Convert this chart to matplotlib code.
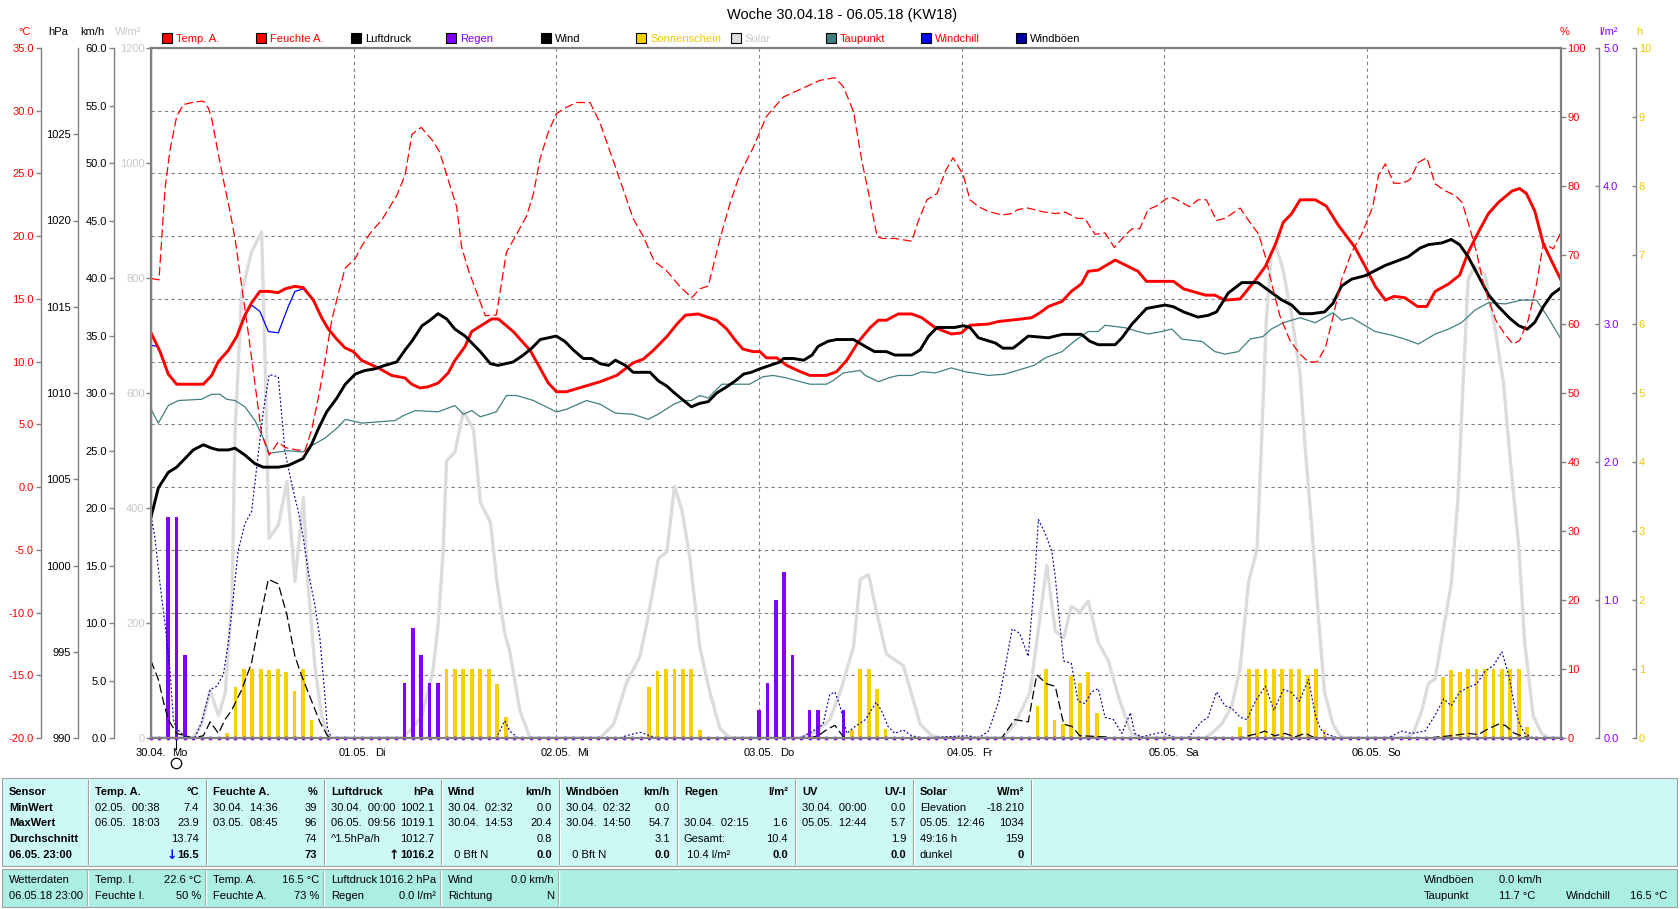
import numpy as np
import matplotlib
matplotlib.use("Agg")
import matplotlib.pyplot as plt
from matplotlib.patches import Rectangle
from matplotlib.transforms import ScaledTranslation

plt.rcParams['font.family'] = ['Liberation Sans', 'DejaVu Sans']
plt.rcParams['font.size'] = 8

# ---------------------------------------------------------------- data
title = "Woche 30.04.18 - 06.05.18 (KW18)"
day_dates = ["30.04.", "01.05.", "02.05.", "03.05.", "04.05.", "05.05.", "06.05."]
day_names = ["Mo", "Di", "Mi", "Do", "Fr", "Sa", "So"]
moon_full_hour = 2.97

temp_h = [0, 1.07, 2.05, 3.04, 4.03, 6.2, 7.19, 7.97, 9.16, 10.15,
          11.13, 11.92, 12.9, 13.9, 15.08, 15.87, 17.05, 18.04, 19.23, 20.21,
          21.0, 21.99, 22.98, 23.96, 24.95, 26.92, 28.5, 29.29, 30.08, 30.87,
          31.86, 32.85, 34.03, 35.2, 36.0, 37.19, 37.98, 39.16, 40.35, 41.14,
          42.9, 44.9, 46.07, 47.05, 48.03, 49.2, 51.2, 53.2, 55.15, 57.1,
          58.3, 59.5, 61.1, 62.3, 63.3, 64.8, 67.0, 68.2, 69.2, 70.1,
          71.3, 72.1, 72.9, 74.1, 75.3, 76.9, 78.05, 80.0, 81.2, 82.4,
          83.8, 85.16, 86.15, 87.1, 88.5, 90.1, 91.3, 92.9, 94.8, 96.0,
          97.0, 99.2, 100.4, 103.1, 104.3, 105.3, 106.3, 107.9, 109.0, 110.2,
          111.0, 112.2, 114.2, 115.4, 116.9, 117.9, 121.1, 122.3, 124.9, 126.0,
          127.2, 129.0, 130.8, 132.0, 133.2, 134.1, 135.1, 136.1, 137.9, 139.2,
          140.6, 142.6, 143.8, 145.0, 146.2, 147.2, 148.5, 150.0, 151.1, 152.1,
          153.7, 155.0, 156.0, 157.2, 158.4, 159.6, 161.2, 162.1, 162.9, 163.9,
          164.9, 165.9, 167.0]
temp_v = [12.3, 10.8, 9.0, 8.2, 8.2, 8.2, 8.9, 10.0, 10.9, 12.0,
          13.7, 14.7, 15.6, 15.6, 15.5, 15.8, 16.0, 15.9, 14.9, 13.5,
          12.6, 11.8, 11.1, 10.8, 10.1, 9.5, 8.9, 8.8, 8.7, 8.2,
          7.9, 8.0, 8.3, 9.1, 10.1, 11.2, 12.4, 12.9, 13.4, 13.4,
          12.4, 10.9, 9.5, 8.3, 7.6, 7.6, 8.0, 8.4, 8.9, 9.9,
          10.2, 10.9, 12.0, 13.0, 13.7, 13.8, 13.3, 12.6, 11.7, 11.0,
          10.8, 10.8, 10.3, 10.3, 9.7, 9.2, 8.9, 8.9, 9.2, 10.1,
          11.6, 12.7, 13.3, 13.3, 13.8, 13.8, 13.5, 12.7, 12.2, 12.3,
          12.9, 13.0, 13.2, 13.4, 13.5, 13.9, 14.4, 14.8, 15.6, 16.2,
          17.2, 17.3, 18.1, 17.7, 17.2, 16.4, 16.4, 15.8, 15.3, 15.3,
          14.9, 15.0, 16.5, 17.6, 19.4, 21.1, 21.8, 22.9, 22.9, 22.4,
          20.9, 19.1, 17.6, 16.0, 14.9, 15.2, 15.1, 14.4, 14.4, 15.6,
          16.2, 16.9, 18.7, 20.3, 21.8, 22.7, 23.6, 23.8, 23.4, 22.0,
          19.4, 18.0, 16.5]

hum_h = [0, 0.95, 1.66, 2.25, 3.04, 3.83, 5.21, 6.2, 6.79, 7.19,
         7.78, 8.57, 9.36, 9.95, 10.74, 11.53, 12.32, 13.1, 14.0, 15.08,
         15.87, 17.05, 18.24, 19.03, 19.82, 20.6, 21.4, 22.2, 23.0, 24.2,
         25.0, 26.1, 27.3, 28.1, 29.1, 30.1, 30.9, 32.0, 33.4, 34.2,
         35.2, 36.2, 36.8, 37.6, 38.8, 39.6, 40.9, 42.1, 43.3, 44.5,
         45.3, 46.07, 47.05, 48.03, 49.2, 50.4, 52.0, 53.2, 54.76, 55.9,
         57.1, 58.3, 59.6, 61.0, 62.6, 64.04, 65.0, 66.0, 67.4, 68.6,
         69.8, 71.3, 72.9, 74.9, 77.6, 79.2, 81.0, 82.0, 83.2, 84.2,
         85.0, 86.0, 86.6, 88.1, 90.1, 90.9, 91.9, 93.1, 94.1, 95.0,
         96.2, 97.0, 98.0, 99.2, 100.8, 101.9, 102.7, 103.9, 105.5, 107.1,
         108.3, 109.7, 110.6, 111.8, 113.0, 114.1, 115.4, 116.2, 117.1, 118.1,
         119.1, 120.3, 121.1, 123.0, 124.0, 125.0, 126.2, 127.2, 129.0, 130.0,
         131.2, 132.0, 132.8, 133.7, 134.9, 136.1, 137.1, 138.1, 139.1, 139.9,
         141.0, 142.2, 143.4, 144.7, 145.4, 146.2, 147.2, 148.2, 149.1, 150.1,
         151.1, 152.1, 153.3, 154.5, 155.3, 156.1, 157.0, 157.7, 158.5, 159.3,
         160.3, 161.3, 162.1, 163.1, 164.1, 164.9, 166.1, 167.0]
hum_v = [66.6, 66.4, 79.6, 85.2, 90.1, 91.8, 92.2, 92.3, 91.3, 89.8,
         85.9, 80.9, 76.3, 72.4, 65.5, 58.6, 51.3, 44.1, 41.0, 42.9,
         42.1, 41.8, 41.6, 44.7, 49.3, 54.6, 60.5, 64.5, 68.1, 69.5,
         71.4, 73.4, 75.0, 76.6, 78.6, 81.6, 87.5, 88.5, 86.5, 84.9,
         80.9, 77.0, 71.1, 67.8, 63.8, 61.2, 61.3, 70.4, 73.0, 75.7,
         78.9, 83.9, 87.8, 90.5, 91.4, 92.1, 92.1, 89.1, 83.6, 79.6,
         75.3, 72.7, 69.1, 67.8, 65.5, 63.8, 65.1, 65.5, 72.4, 77.6,
         81.9, 85.5, 90.1, 92.9, 94.4, 95.3, 95.7, 94.4, 90.8, 83.6,
         78.9, 72.7, 72.4, 72.4, 72.0, 75.0, 78.0, 78.9, 82.2, 84.1,
         81.6, 78.0, 77.0, 76.3, 75.8, 76.0, 76.6, 76.8, 76.3, 76.0,
         76.2, 75.3, 75.3, 73.0, 73.2, 71.1, 72.9, 73.8, 73.8, 76.6,
         77.1, 78.2, 78.3, 77.0, 78.0, 78.0, 75.0, 75.3, 76.8, 75.0,
         73.0, 69.7, 65.5, 61.2, 57.6, 55.6, 54.5, 54.5, 56.6, 60.5,
         66.4, 70.4, 73.0, 77.0, 81.6, 83.2, 80.4, 80.4, 80.9, 83.4,
         84.1, 80.3, 79.3, 78.6, 77.6, 74.3, 70.4, 66.4, 63.2, 60.5,
         58.6, 57.1, 57.6, 60.5, 65.8, 71.7, 70.9, 73.4]

pres_h = [0, 0.87, 2.05, 3.04, 4.03, 5.01, 6.2, 7.19, 7.97, 9.16,
          9.95, 11.13, 12.32, 13.3, 15.08, 16.26, 18.0, 19.0, 19.8, 20.8,
          22.0, 23.0, 24.2, 25.3, 26.5, 27.7, 29.1, 30.1, 30.9, 32.1,
          33.0, 34.0, 35.0, 36.0, 37.2, 39.0, 40.2, 41.1, 42.9, 44.1,
          45.1, 46.1, 47.05, 48.0, 49.0, 50.0, 51.2, 52.2, 53.2, 54.2,
          55.0, 56.2, 57.1, 59.1, 60.1, 61.1, 62.0, 63.0, 64.0, 65.0,
          66.0, 67.0, 68.0, 69.2, 70.2, 71.1, 72.1, 73.3, 74.5, 74.9,
          76.1, 77.3, 78.3, 79.0, 80.2, 81.2, 82.4, 83.2, 84.6, 85.7,
          87.1, 88.1, 90.1, 91.1, 92.1, 93.1, 95.2, 96.2, 97.0, 98.0,
          100.0, 100.9, 102.1, 102.9, 103.9, 106.3, 107.1, 108.0, 110.2, 111.2,
          112.2, 114.2, 115.0, 116.2, 117.9, 120.1, 121.1, 122.3, 124.0, 125.2,
          126.2, 127.6, 129.2, 131.1, 132.5, 133.9, 135.1, 136.1, 137.5, 139.0,
          140.0, 141.0, 142.2, 143.8, 145.0, 146.2, 147.3, 148.9, 150.3, 151.3,
          152.9, 154.0, 155.0, 156.0, 157.2, 158.4, 159.6, 161.0, 162.0, 163.0,
          163.9, 164.9, 165.9, 167.0]
pres_v = [1002.8, 1004.5, 1005.4, 1005.7, 1006.2, 1006.7, 1007.0, 1006.8, 1006.7, 1006.7,
          1006.8, 1006.4, 1005.9, 1005.7, 1005.7, 1005.8, 1006.2, 1007.0, 1007.9, 1008.9,
          1009.7, 1010.5, 1011.1, 1011.3, 1011.4, 1011.6, 1011.8, 1012.5, 1013.0, 1013.9,
          1014.2, 1014.6, 1014.3, 1013.7, 1013.3, 1012.4, 1011.7, 1011.6, 1011.8, 1012.2,
          1012.6, 1013.1, 1013.2, 1013.3, 1013.0, 1012.5, 1012.0, 1012.0, 1011.7, 1011.6,
          1011.9, 1011.6, 1011.2, 1011.2, 1010.7, 1010.4, 1010.0, 1009.6, 1009.2, 1009.4,
          1009.5, 1010.0, 1010.3, 1010.7, 1011.1, 1011.2, 1011.4, 1011.6, 1011.8, 1012.0,
          1012.0, 1011.9, 1012.2, 1012.7, 1013.0, 1013.1, 1013.1, 1013.1, 1012.7, 1012.4,
          1012.4, 1012.2, 1012.2, 1012.5, 1013.3, 1013.8, 1013.8, 1013.9, 1013.8, 1013.2,
          1012.9, 1012.6, 1012.6, 1012.9, 1013.3, 1013.2, 1013.3, 1013.4, 1013.4, 1013.0,
          1012.8, 1012.8, 1013.2, 1014.0, 1014.9, 1015.1, 1015.0, 1014.7, 1014.4, 1014.5,
          1014.7, 1015.8, 1016.4, 1016.4, 1015.9, 1015.4, 1015.1, 1014.6, 1014.6, 1014.7,
          1015.2, 1016.2, 1016.6, 1016.8, 1017.1, 1017.4, 1017.6, 1017.9, 1018.4, 1018.6,
          1018.7, 1018.9, 1018.6, 1017.9, 1016.8, 1015.7, 1015.0, 1014.3, 1013.9, 1013.7,
          1014.1, 1015.0, 1015.7, 1016.1]

dew_h = [0, 0.87, 2.05, 3.24, 6.0, 7.19, 8.17, 8.96, 9.95, 11.13,
         12.32, 13.3, 14.0, 15.08, 16.26, 18.0, 19.0, 20.6, 22.2, 23.0,
         25.0, 26.9, 28.9, 29.9, 31.3, 34.0, 36.0, 37.0, 38.0, 39.0,
         40.9, 42.1, 43.3, 45.3, 48.0, 49.2, 51.6, 53.2, 55.0, 57.1,
         58.9, 60.3, 61.9, 63.0, 64.0, 65.0, 66.0, 67.6, 70.9, 72.5,
         73.7, 75.3, 76.9, 78.05, 80.0, 80.8, 82.0, 84.0, 84.6, 86.2,
         87.3, 88.5, 90.1, 91.3, 92.9, 94.8, 96.4, 99.2, 101.1, 103.1,
         104.6, 105.9, 107.9, 109.5, 111.0, 112.2, 113.0, 115.4, 116.9, 118.1,
         119.7, 120.9, 122.1, 123.3, 124.5, 126.0, 127.2, 128.8, 130.2, 131.7,
         132.7, 134.1, 136.1, 137.9, 140.0, 141.0, 142.2, 145.0, 147.0, 148.5,
         150.1, 152.1, 153.7, 155.2, 156.8, 158.4, 160.4, 162.3, 164.1, 165.3,
         167.0]
dew_v = [6.2, 5.1, 6.5, 6.9, 7.0, 7.4, 7.4, 7.0, 6.9, 6.4,
         5.3, 3.9, 2.7, 2.8, 2.9, 2.8, 3.3, 3.9, 4.8, 5.4,
         5.1, 5.2, 5.3, 5.7, 6.1, 6.0, 6.5, 5.8, 6.1, 5.6,
         6.0, 7.3, 7.3, 6.9, 6.0, 6.2, 6.9, 6.6, 5.9, 5.8,
         5.4, 5.9, 6.6, 6.9, 6.9, 7.3, 7.1, 8.2, 8.2, 8.8,
         8.9, 8.7, 8.4, 8.2, 8.2, 8.5, 9.1, 9.3, 8.9, 8.4,
         8.7, 8.9, 8.9, 9.2, 9.1, 9.5, 9.2, 8.9, 9.0, 9.4,
         9.7, 10.3, 10.8, 11.7, 12.4, 12.4, 12.9, 12.7, 12.4, 12.2,
         12.4, 12.6, 11.8, 11.7, 11.6, 10.8, 10.6, 10.8, 11.8, 12.0,
         12.6, 13.1, 13.5, 13.1, 13.9, 13.3, 13.5, 12.4, 12.1, 11.8,
         11.4, 12.2, 12.6, 13.1, 14.1, 14.7, 14.6, 14.9, 14.9, 13.7,
         11.8]

windchill_h = [0, 0.87, 2.05, 3.04, 4.03, 6.2, 7.19, 7.97, 9.16, 10.15,
               11.13, 11.92, 12.9, 13.9, 15.08, 16.26, 17.05, 18.04, 19.23, 20.21]
windchill_v = [11.3, 11.2, 9.0, 8.2, 8.2, 8.2, 8.9, 10.0, 10.9, 12.0,
               13.8, 14.5, 14.0, 12.4, 12.3, 14.4, 15.6, 15.8, 14.9, 13.5]

solar_h = [0, 5.0, 6.0, 7.0, 8.0, 8.8, 9.6, 9.95, 10.74, 11.9,
           13.1, 13.5, 13.98, 15.1, 16.1, 17.05, 18.04, 18.6, 19.4, 20.2,
           20.9, 21.4, 29.7, 30.9, 32.1, 33.4, 34.0, 34.6, 35.0, 36.0,
           37.0, 38.2, 39.0, 40.2, 41.0, 41.9, 42.5, 43.7, 44.9, 53.2,
           54.8, 56.3, 57.9, 58.7, 59.5, 60.1, 61.1, 62.0, 62.9, 63.8,
           65.0, 66.2, 67.4, 68.6, 76.9, 78.9, 80.4, 81.6, 83.2, 84.0,
           85.0, 85.9, 87.1, 89.1, 90.1, 91.1, 92.5, 93.7, 100.8, 102.3,
           104.1, 105.1, 106.1, 107.1, 108.1, 109.0, 110.0, 111.0, 112.2, 113.4,
           114.6, 116.1, 117.3, 124.8, 125.6, 126.8, 128.0, 129.0, 130.0, 131.0,
           131.5, 132.1, 132.7, 133.3, 134.1, 135.1, 136.1, 136.7, 137.5, 138.3,
           139.0, 140.0, 140.8, 141.4, 148.5, 149.5, 150.5, 151.3, 152.1, 152.9,
           154.0, 154.8, 155.4, 156.0, 156.8, 158.0, 159.2, 160.2, 161.0, 162.0,
           162.7, 163.7, 164.7, 165.5, 167.0]
solar_v = [0, 0, 24, 83, 39, 79, 245, 529, 774, 845,
           880, 663, 347, 371, 446, 272, 418, 268, 126, 39,
           4, 0, 0, 16, 39, 118, 197, 324, 482, 497,
           568, 537, 410, 375, 268, 182, 150, 47, 0, 0,
           24, 95, 142, 197, 261, 312, 324, 438, 395, 316,
           158, 79, 16, 0, 0, 12, 32, 79, 158, 276,
           284, 221, 146, 126, 75, 24, 4, 0, 0, 24,
           79, 189, 300, 186, 174, 229, 219, 238, 166, 134,
           71, 8, 0, 0, 8, 24, 55, 122, 272, 328,
           505, 726, 845, 853, 813, 734, 632, 505, 363, 205,
           79, 24, 4, 0, 0, 8, 47, 95, 103, 174,
           268, 418, 616, 797, 821, 805, 711, 616, 482, 332,
           166, 39, 8, 0, 0]

wind_h = [0, 0.87, 1.46, 2.05, 3.04, 4.03, 5.0, 6.2, 7.0, 8.0,
          8.76, 9.55, 10.74, 11.9, 12.9, 13.9, 15.08, 16.1, 17.05, 17.8,
          19.03, 20.0, 20.9, 21.4, 78.0, 79.0, 80.2, 81.0, 82.0, 83.0,
          100.75, 102.3, 103.9, 104.9, 106.1, 107.1, 108.1, 109.1, 110.0, 113.0,
          114.0, 129.0, 130.0, 131.2, 131.9, 133.1, 134.3, 135.5, 136.7, 137.9,
          151.5, 152.5, 154.0, 156.0, 157.2, 158.4, 159.6, 160.4, 161.5, 162.7,
          163.7, 167.0]
wind_v = [6.7, 5.1, 3.2, 1.6, 0.4, 0.2, 0.0, 0.2, 1.4, 0.4,
          1.6, 2.4, 4.2, 6.5, 10.3, 13.8, 13.4, 10.7, 7.1, 5.5,
          3.2, 1.4, 0.2, 0.0, 0.0, 0.2, 0.8, 1.1, 0.1, 0.0,
          0.0, 1.6, 1.4, 5.5, 4.7, 4.5, 1.2, 1.0, 0.2, 0.1,
          0.0, 0.0, 0.2, 0.4, 0.6, 0.2, 0.4, 0.1, 0.4, 0.0,
          0.0, 0.1, 0.2, 0.4, 0.3, 0.8, 1.2, 1.1, 0.4, 0.1,
          0.0, 0.0]

gust_h = [0, 0.47, 1.07, 1.66, 2.25, 2.65, 3.04, 3.63, 4.22, 5.2,
          6.0, 7.0, 7.78, 8.57, 9.16, 9.75, 10.3, 11.1, 11.92, 12.7,
          13.3, 14.0, 15.08, 15.87, 16.66, 17.45, 18.04, 18.64, 19.42, 20.0,
          20.6, 20.9, 21.4, 40.9, 41.9, 42.5, 43.5, 55.5, 56.3, 57.9,
          59.1, 60.0, 76.9, 78.4, 79.6, 80.4, 81.0, 81.6, 82.4, 83.4,
          84.6, 85.9, 86.5, 87.3, 88.1, 89.1, 90.1, 91.3, 96.8, 98.0,
          99.2, 100.4, 101.2, 102.0, 102.9, 103.9, 104.3, 104.7, 105.1, 105.9,
          106.7, 107.1, 107.7, 108.1, 109.0, 109.8, 110.6, 111.4, 112.2, 113.0,
          114.0, 115.0, 116.0, 116.5, 117.3, 119.7, 121.3, 122.8, 124.4, 125.2,
          126.2, 127.2, 128.0, 129.0, 129.8, 130.8, 132.0, 133.0, 134.1, 135.0,
          136.0, 137.1, 137.9, 138.5, 139.0, 140.6, 146.5, 148.1, 149.3, 150.9,
          152.1, 153.1, 154.0, 155.0, 156.0, 157.0, 158.0, 159.0, 160.0, 160.8,
          161.5, 162.1, 162.7, 163.7, 167.0]
gust_v = [19.3, 17.4, 13.4, 9.9, 5.9, 1.6, 0.8, 0.4, 0.0, 0.0,
          1.4, 4.2, 4.5, 5.5, 8.3, 12.2, 16.2, 18.6, 19.7, 24.7,
          28.4, 31.6, 31.4, 24.9, 22.1, 19.7, 17.4, 14.4, 11.5, 8.7,
          3.6, 0.8, 0.0, 0.0, 1.5, 0.6, 0.0, 0.0, 0.2, 0.5,
          0.2, 0.0, 0.0, 0.6, 1.2, 3.8, 4.0, 2.8, 0.4, 1.0,
          1.6, 3.1, 2.4, 1.0, 0.4, 0.7, 0.2, 0.0, 0.2, 0.0,
          0.6, 3.2, 6.3, 9.5, 9.1, 7.1, 10.7, 14.2, 19.0, 17.8,
          16.2, 14.0, 9.5, 6.7, 6.5, 3.2, 3.0, 4.0, 4.3, 1.8,
          1.6, 0.4, 2.2, 0.4, 0.1, 0.5, 0.0, 0.0, 1.4, 1.8,
          4.0, 2.8, 2.6, 1.8, 1.6, 3.2, 4.5, 2.4, 4.2, 4.0,
          3.2, 5.1, 2.0, 0.8, 0.4, 0.0, 0.0, 0.6, 0.4, 0.6,
          2.0, 3.4, 2.8, 4.0, 4.4, 4.7, 5.8, 6.3, 7.5, 5.5,
          2.8, 1.2, 0.4, 0.0, 0.0]

rain_h = [2, 3, 4, 30, 31, 32, 33, 34, 72, 73, 74, 75, 76, 78, 79, 82]
rain_v = [1.6, 1.6, 0.6, 0.4, 0.8, 0.6, 0.4, 0.4, 0.2, 0.4, 1.0, 1.2, 0.6, 0.2, 0.2, 0.2]

sun_h = [9, 10, 11, 12, 13, 14, 15, 16, 17, 18, 19,
         34, 35, 36, 37, 38, 39, 40, 41, 42,
         59, 60, 61, 62, 63, 64, 65,
         83, 84, 85, 86, 87,
         105, 106, 107, 108, 109, 110, 111, 112,
         129, 130, 131, 132, 133, 134, 135, 136, 137, 138, 139,
         153, 154, 155, 156, 157, 158, 159, 160, 161, 162, 163]
sun_v = [0.07, 0.74, 1.0, 1.0, 1.0, 0.99, 1.0, 0.95, 0.68, 1.0, 0.26,
         0.56, 1.0, 1.0, 1.0, 1.0, 1.0, 1.0, 0.78, 0.3,
         0.74, 0.97, 1.0, 1.0, 1.0, 1.0, 0.12,
         0.12, 1.0, 1.0, 0.71, 0.13,
         0.46, 1.0, 0.26, 0.2, 0.9, 0.8, 0.95, 0.36,
         0.16, 1.0, 1.0, 1.0, 1.0, 1.0, 1.0, 1.0, 0.92, 1.0, 0.12,
         0.89, 0.99, 0.95, 1.0, 1.0, 1.0, 1.0, 1.0, 1.0, 1.0, 0.16]

# table texts
sensor_col = ["Sensor", "MinWert", "MaxWert", "Durchschnitt", "06.05. 23:00"]
tbl_heads = [("Temp. A.", "°C"), ("Feuchte A.", "%"), ("Luftdruck", "hPa"),
             ("Wind", "km/h"), ("Windböen", "km/h"), ("Regen", "l/m²"),
             ("UV", "UV-I"), ("Solar", "W/m²")]
tbl_left = [["02.05.  00:38", "06.05.  18:03", "", ""],
            ["30.04.  14:36", "03.05.  08:45", "", ""],
            ["30.04.  00:00", "06.05.  09:56", "^1.5hPa/h", ""],
            ["30.04.  02:32", "30.04.  14:53", "", "  0 Bft N"],
            ["30.04.  02:32", "30.04.  14:50", "", "  0 Bft N"],
            ["", "30.04.  02:15", "Gesamt:", " 10.4 l/m²"],
            ["30.04.  00:00", "05.05.  12:44", "", ""],
            ["Elevation", "05.05.  12:46", "49:16 h", "dunkel"]]
tbl_right = [["7.4", "23.9", "13.74", "16.5"],
             ["39", "96", "74", "73"],
             ["1002.1", "1019.1", "1012.7", "1016.2"],
             ["0.0", "20.4", "0.8", "0.0"],
             ["0.0", "54.7", "3.1", "0.0"],
             ["", "1.6", "10.4", "0.0"],
             ["0.0", "5.7", "1.9", "0.0"],
             ["-18.210", "1034", "159", "0"]]
tbl_arrows = {0: ("↓", "#0000FF"), 2: ("↑", "#000000")}
bottom_first = ["Wetterdaten", "06.05.18 23:00"]
bottom_cells = [[("Temp. I.", "22.6 °C"), ("Feuchte I.", "50 %")],
                [("Temp. A.", "16.5 °C"), ("Feuchte A.", "73 %")],
                [("Luftdruck", "1016.2 hPa"), ("Regen", "0.0 l/m²")],
                [("Wind", "0.0 km/h"), ("Richtung", "N")]]
bottom_extra = [("Windböen", "0.0 km/h", "", ""), ("Taupunkt", "11.7 °C", "Windchill", "16.5 °C")]

# ---------------------------------------------------------------- style
RED = '#FF0000'
PURPLE = '#8000FF'
YELLOW = '#F8D000'
YELLOW_TXT = '#F0C800'
SOLAR = '#DCDCDC'
SOLAR_TXT = '#C8C8C8'
TEAL = '#408080'
NAVY = '#0000A0'
GRAY = '#808080'
PX = 0.72

W, H = 1680, 909
fig = plt.figure(figsize=(W / 100, H / 100), dpi=100)
fig.patch.set_facecolor('white')

bg = fig.add_axes([0, 0, 1, 1], zorder=-5)
bg.set_xlim(0, W)
bg.set_ylim(H, 0)
bg.axis('off')

L, R, T, B = 151, 1561, 48, 738
rect = [L / W, 1 - B / H, (R - L) / W, (B - T) / H]


def make_scale(a, side, offset_px, lim, ticks, labels, color,
               direction='out', tick_len=5, pad=1.5):
    for s in a.spines.values():
        s.set_visible(False)
    sp = a.spines[side]
    sp.set_visible(True)
    sp.set_position(('outward', offset_px * PX))
    sp.set_color(GRAY)
    sp.set_linewidth(1.0)
    if side == 'left':
        a.yaxis.tick_left()
    else:
        a.yaxis.tick_right()
    a.set_ylim(*lim)
    a.set_yticks(ticks)
    a.set_yticklabels(labels)
    a.tick_params(axis='y', direction=direction, length=tick_len * PX, width=1.0,
                  color=GRAY, labelcolor=color, labelsize=8, pad=pad)


# host: degC axis + grid
ax_c = fig.add_axes(rect)
ax_c.set_xlim(0, 167)
c_ticks = list(range(-20, 36, 5))
make_scale(ax_c, 'left', 110, (-20, 35), c_ticks, [f"{t:.1f}" for t in c_ticks], RED)
ax_c.set_xticks([24 * i for i in range(1, 7)])
ax_c.tick_params(axis='x', bottom=False, labelbottom=False)
ax_c.grid(True, axis='both', color=GRAY, lw=0.8, ls=(0, (3, 3)))

# solar W/m2
ax_w = ax_c.twinx()
w_ticks = list(range(0, 1201, 200))
make_scale(ax_w, 'left', 0, (0, 1200), w_ticks, [str(t) for t in w_ticks], SOLAR_TXT, pad=1)
ax_w.plot(solar_h, solar_v, color=SOLAR, lw=2.4, solid_joinstyle='round')

# sunshine h
ax_s = ax_c.twinx()
s_ticks = list(range(0, 11))
make_scale(ax_s, 'right', 75, (0, 10), s_ticks, [str(t) for t in s_ticks], YELLOW_TXT,
           direction='in', tick_len=4, pad=2)
ax_s.bar(sun_h, sun_v, width=0.45, color=YELLOW, lw=0)

# rain l/m2
ax_r = ax_c.twinx()
r_ticks = [0, 1, 2, 3, 4, 5]
make_scale(ax_r, 'right', 38, (0, 5), r_ticks, [f"{t:.1f}" for t in r_ticks], PURPLE,
           direction='in', tick_len=4, pad=3)
ax_r.bar(rain_h, rain_v, width=0.42, color=PURPLE, lw=0)
rain_hours = np.arange(0, 168)
rain_hourly = np.zeros(len(rain_hours))
ax_r.plot(rain_hours, rain_hourly, ls='none', marker='o', ms=1.8, color=PURPLE, clip_on=False)

# wind km/h
ax_k = ax_c.twinx()
k_ticks = list(range(0, 61, 5))
make_scale(ax_k, 'left', 37, (0, 60), k_ticks, [f"{t:.1f}" for t in k_ticks], 'black')
ax_k.plot(gust_h, gust_v, color=NAVY, lw=0.85, ls=(0, (1.6, 1.8)))
ax_k.plot(wind_h, wind_v, color='black', lw=0.9, ls=(0, (7, 3)))

# temperatures (hidden twin with the degC scale)
ax_t = ax_c.twinx()
for s in ax_t.spines.values():
    s.set_visible(False)
ax_t.set_ylim(-20, 35)
ax_t.set_yticks([])
ax_t.plot(dew_h, dew_v, color=TEAL, lw=0.9)
ax_t.plot(windchill_h, windchill_v, color='#0000FF', lw=0.9)
ax_t.plot(temp_h, temp_v, color=RED, lw=2.1)

# pressure hPa
ax_p = ax_c.twinx()
p_ticks = list(range(990, 1026, 5))
make_scale(ax_p, 'left', 73, (990, 1030), p_ticks, [str(t) for t in p_ticks], 'black')
ax_p.plot(pres_h, pres_v, color='black', lw=2.1)

# humidity % (top axes, also carries the frame)
ax_h = ax_c.twinx()
h_ticks = list(range(0, 101, 10))
make_scale(ax_h, 'right', 0, (0, 100), h_ticks, [str(t) for t in h_ticks], RED,
           tick_len=5, pad=1)
ax_h.plot(hum_h, hum_v, color=RED, lw=0.9, ls=(0, (7, 3)))
for side in ['top', 'bottom', 'left', 'right']:
    ax_h.spines[side].set_visible(True)
    ax_h.spines[side].set_color(GRAY)
    ax_h.spines[side].set_linewidth(1.6)

# x labels (day boundaries) and moon marker
xt = ax_c.get_xaxis_transform() + ScaledTranslation(0, -15 / 100, fig.dpi_scale_trans)
for i, (d, n) in enumerate(zip(day_dates, day_names)):
    ax_c.text(24 * i, 0, d, transform=xt, ha='center', va='center', fontsize=8, clip_on=False)
    ax_c.text(24 * i, 0, n, transform=xt + ScaledTranslation(21 / 100, 0, fig.dpi_scale_trans),
              ha='left', va='center', fontsize=8, clip_on=False)
xa = ax_c.get_xaxis_transform()
ax_c.plot([moon_full_hour, moon_full_hour], [0, -11 / 690], transform=xa,
          color='black', lw=0.8, clip_on=False)
ax_c.plot([moon_full_hour], [-25 / 690], transform=xa, marker='o', ms=7.5,
          mfc='white', mec='black', mew=0.9, clip_on=False)

# ---------------------------------------------------------------- headers / legend / title
bg.text(842, 15, title, ha='center', va='center', fontsize=10.5)
for x, txt, col in [(25, '°C', RED), (58, 'hPa', 'black'), (92, 'km/h', 'black'),
                    (128, 'W/m²', SOLAR_TXT), (1565, '%', RED), (1608, 'l/m²', PURPLE),
                    (1639, 'h', YELLOW_TXT)]:
    bg.text(x, 32, txt, ha='center', va='center', color=col, fontsize=8)

legend_items = [("Temp. A.", RED, RED), ("Feuchte A.", RED, RED), ("Luftdruck", 'black', 'black'),
                ("Regen", PURPLE, PURPLE), ("Wind", 'black', 'black'),
                ("Sonnenschein", YELLOW, YELLOW_TXT), ("Solar", SOLAR, SOLAR_TXT),
                ("Taupunkt", TEAL, RED), ("Windchill", '#0000FF', RED),
                ("Windböen", NAVY, 'black')]
for k, (lab, fc, tc) in enumerate(legend_items):
    x0 = 161.5 + 94.9 * k
    bg.add_patch(Rectangle((x0, 33), 10, 10, fc=fc, ec='black', lw=0.8))
    bg.text(x0 + 14, 38.5, lab, color=tc, ha='left', va='center', fontsize=8)

# ---------------------------------------------------------------- table
bg.add_patch(Rectangle((2, 778), 1675, 88, fc='#CCF8F5', ec='#A0A0A0', lw=0.8))
bg.add_patch(Rectangle((2, 869), 1675, 38, fc='#ABEEE2', ec='#A0A0A0', lw=0.8))
col_div = [88, 206, 324, 441, 559, 677, 795, 913, 1031]
for x in col_div:
    bg.plot([x, x], [780, 864], color='#9A9A9A', lw=0.8)
    bg.plot([x + 1.2, x + 1.2], [780, 864], color='white', lw=0.8)
for x in col_div[:5]:
    bg.plot([x - 1.2, x - 1.2], [871, 905], color='#9A9A9A', lw=0.8)
    bg.plot([x, x], [871, 905], color='#F4FFFD', lw=1.0)

rows_y = [792, 808, 823, 839, 855]
for j, s in enumerate(sensor_col):
    bg.text(9, rows_y[j], s, ha='left', va='center', fontsize=8, fontweight='bold')

fig.canvas.draw()
renderer = fig.canvas.get_renderer()
for c in range(8):
    xl = col_div[c] + 7
    xr = col_div[c + 1] - 7
    hl, hr = tbl_heads[c]
    bg.text(xl, rows_y[0], hl, ha='left', va='center', fontsize=8, fontweight='bold')
    bg.text(xr, rows_y[0], hr, ha='right', va='center', fontsize=8, fontweight='bold')
    for r in range(4):
        y = rows_y[r + 1]
        bg.text(xl, y, tbl_left[c][r], ha='left', va='center', fontsize=8)
        bold = 'bold' if r == 3 else 'normal'
        t = bg.text(xr, y, tbl_right[c][r], ha='right', va='center', fontsize=8, fontweight=bold)
        if r == 3 and c in tbl_arrows:
            wpx = t.get_window_extent(renderer).width
            sym, col = tbl_arrows[c]
            bg.text(xr - wpx - 0.5, y + 0.5, sym, ha='right', va='center', fontsize=9,
                    fontweight='bold', color=col, family=['DejaVu Sans'])

by = [880, 896]
for j, s in enumerate(bottom_first):
    bg.text(9, by[j], s, ha='left', va='center', fontsize=8)
for c, cell in enumerate(bottom_cells):
    xl = col_div[c] + 7
    xr = col_div[c + 1] - 5
    for j, (a, b) in enumerate(cell):
        bg.text(xl, by[j], a, ha='left', va='center', fontsize=8)
        bg.text(xr, by[j], b, ha='right', va='center', fontsize=8)
for j, (a, b, c2, d) in enumerate(bottom_extra):
    bg.text(1424, by[j], a, ha='left', va='center', fontsize=8)
    bg.text(1499, by[j], b, ha='left', va='center', fontsize=8)
    if c2:
        bg.text(1566, by[j], c2, ha='left', va='center', fontsize=8)
        bg.text(1630, by[j], d, ha='left', va='center', fontsize=8)

fig.savefig("out.png", dpi=100, facecolor='white')
